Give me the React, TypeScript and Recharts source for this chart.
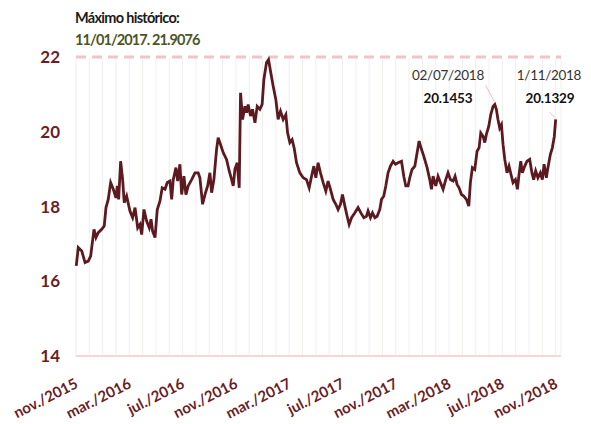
import { LineChart, Line, XAxis, YAxis, CartesianGrid, ReferenceLine } from 'recharts'

// months since nov./2015
const months = [
  0.02, 0.17, 0.43, 0.68, 0.92, 1.1, 1.35, 1.5, 1.67, 1.93, 2.12, 2.25, 2.42, 2.6, 2.8, 3.0, 3.1, 3.2, 3.35, 3.5,
  3.62, 3.8, 4.05, 4.25, 4.43, 4.63, 4.8, 4.93, 5.1, 5.3, 5.5, 5.63, 5.75, 5.93, 6.1, 6.3, 6.47, 6.68, 6.85, 7.05,
  7.18, 7.3, 7.5, 7.63, 7.8, 7.93, 8.1, 8.25, 8.42, 8.68, 8.93, 9.17, 9.3, 9.5, 9.68, 9.88, 10.05, 10.18, 10.35, 10.55,
  10.67, 10.8, 11.05, 11.3, 11.5, 11.68, 11.8, 11.93, 12.1, 12.25, 12.35, 12.5, 12.68, 12.8, 12.92, 13.1, 13.25, 13.43, 13.6, 13.8,
  13.97, 14.1, 14.3, 14.45, 14.6, 14.8, 15.0, 15.17, 15.35, 15.55, 15.75, 15.88, 16.05, 16.22, 16.37, 16.55, 16.8, 17.05, 17.3, 17.5,
  17.68, 17.85, 18.0, 18.17, 18.35, 18.55, 18.75, 18.92, 19.1, 19.3, 19.5, 19.67, 19.85, 20.0, 20.18, 20.35, 20.5, 20.68, 20.93, 21.17,
  21.38, 21.6, 21.8, 21.92, 22.1, 22.25, 22.43, 22.6, 22.8, 22.93, 23.1, 23.25, 23.42, 23.6, 23.8, 23.98, 24.17, 24.43, 24.6, 24.75,
  24.92, 25.05, 25.22, 25.43, 25.6, 25.75, 25.93, 26.1, 26.35, 26.55, 26.68, 26.8, 27.0, 27.17, 27.35, 27.55, 27.75, 27.92, 28.1, 28.3,
  28.45, 28.6, 28.75, 28.93, 29.1, 29.3, 29.48, 29.6, 29.75, 29.93, 30.1, 30.25, 30.38, 30.55, 30.68, 30.8, 30.98, 31.13, 31.3, 31.43,
  31.55, 31.67, 31.8, 31.93, 32.05, 32.18, 32.35, 32.5, 32.68, 32.8, 32.98, 33.13, 33.25, 33.38, 33.5, 33.68, 33.85, 34.05, 34.22, 34.35,
  34.5, 34.67, 34.85, 35.0, 35.13, 35.3, 35.42, 35.6, 35.75, 35.9, 36.0,
]

const rates = [
  16.41, 16.9, 16.81, 16.5, 16.54, 16.67, 17.39, 17.17, 17.3, 17.39, 17.48, 17.97, 18.19, 18.64, 18.46, 18.23, 18.55, 18.19, 19.21, 18.72,
  18.1, 18.28, 17.88, 17.7, 17.97, 17.43, 17.52, 17.25, 17.92, 17.61, 17.43, 17.66, 17.34, 17.17, 17.92, 18.14, 18.5, 18.46, 18.64, 18.68,
  18.19, 18.72, 19.04, 18.68, 19.13, 18.32, 18.81, 18.32, 18.55, 18.72, 18.9, 18.9, 18.77, 18.06, 18.32, 18.55, 18.9, 18.37, 18.72, 19.53,
  19.84, 19.71, 19.44, 19.26, 18.95, 18.72, 18.55, 19.0, 19.17, 18.5, 21.04, 20.33, 20.68, 20.51, 20.73, 20.42, 20.6, 20.24, 20.68, 20.6,
  20.73, 21.4, 21.85, 21.93, 21.62, 21.22, 20.86, 20.33, 20.55, 20.33, 20.46, 19.97, 19.71, 19.79, 19.57, 19.17, 18.9, 18.77, 18.72, 18.5,
  18.81, 19.08, 18.77, 19.17, 18.9, 18.64, 18.41, 18.68, 18.46, 18.19, 18.06, 17.92, 18.06, 18.32, 18.01, 17.74, 17.52, 17.7, 17.83, 17.97,
  17.83, 17.7, 17.74, 17.88, 17.7, 17.83, 17.7, 17.74, 17.92, 18.19, 18.28, 18.55, 18.9, 19.08, 19.21, 19.13, 19.17, 19.21, 18.81, 18.55,
  18.55, 18.77, 18.99, 19.08, 19.44, 19.75, 19.53, 19.35, 19.04, 18.72, 18.46, 18.81, 18.55, 18.81, 18.64, 18.46, 18.72, 18.9, 18.72, 18.68,
  18.81, 18.59, 18.5, 18.32, 18.28, 18.19, 18.01, 18.64, 19.04, 18.99, 19.48, 19.57, 19.97, 19.88, 19.71, 19.93, 20.15, 20.46, 20.68, 20.73,
  20.6, 20.33, 20.1, 20.19, 19.66, 19.26, 18.9, 19.08, 18.81, 18.64, 18.72, 18.46, 18.86, 19.21, 18.9, 19.08, 19.21, 19.26, 18.9, 18.72,
  18.95, 18.77, 18.9, 18.72, 19.13, 18.77, 19.04, 19.39, 19.57, 19.88, 20.33,
]

const monthTicks = Array.from({ length: 37 }, (_, i) => i)
const tickLabels = [
  'nov./2015', 'mar./2016', 'jul./2016', 'nov./2016', 'mar./2017',
  'jul./2017', 'nov./2017', 'mar./2018', 'jul./2018', 'nov./2018',
]
const yTicks = [14, 16, 18, 20, 22]

const data = months.map((m, i) => ({ m, rate: rates[i] }))

const FONT = 'Lato, "Open Sans", sans-serif'
const MAROON = '#6a1d27'

function MonthTick(props: { x: number; y: number; payload: { value: number } }) {
  const { x, y, payload } = props
  if (payload.value % 4 !== 0) return null
  const label = tickLabels[payload.value / 4]
  const tx = x + 3
  const ty = y + 23
  return (
    <text
      x={tx}
      y={ty}
      transform={`rotate(-27 ${tx} ${ty})`}
      textAnchor="end"
      fill={MAROON}
      fontSize={15}
      fontWeight={700}
      fontFamily={FONT}
    >
      {label}
    </text>
  )
}

const noteStyle = { position: 'absolute' as const, width: 100, textAlign: 'center' as const, fontSize: 13.5, lineHeight: '18px', zIndex: 2 }

export default function App() {
  return (
    <div style={{ position: 'relative', width: 591, height: 424, fontFamily: FONT }}>
      <style>{'body{margin:0}'}</style>

      <LineChart width={591} height={424} data={data} margin={{ top: 57, right: 30, bottom: 8, left: 16 }}>
        <CartesianGrid horizontal={false} stroke="#f1eeee" strokeWidth={1} />
        <XAxis
          type="number"
          dataKey="m"
          domain={[0, 36.4]}
          ticks={monthTicks}
          interval={0}
          axisLine={false}
          tickLine={false}
          height={60}
          tick={MonthTick as never}
        />
        <YAxis
          type="number"
          domain={[14, 22]}
          ticks={yTicks}
          width={60}
          axisLine={false}
          tickLine={false}
          tickMargin={10}
          tick={{ fill: MAROON, fontSize: 17, fontWeight: 700, fontFamily: FONT }}
        />
        <ReferenceLine y={14} stroke="#f5d6d9" strokeWidth={2} />
        <ReferenceLine y={22} stroke="#f2c4c7" strokeWidth={3} strokeDasharray="10 6" ifOverflow="visible" />
        <ReferenceLine
          segment={[{ x: 30.75, y: 21.24 }, { x: 31.4, y: 20.8 }]}
          stroke="#f0a8ae"
          strokeWidth={0.8}
          ifOverflow="visible"
        />
        <ReferenceLine
          segment={[{ x: 35.55, y: 20.52 }, { x: 35.93, y: 20.38 }]}
          stroke="#f0a8ae"
          strokeWidth={0.8}
          ifOverflow="visible"
        />
        <Line
          type="linear"
          dataKey="rate"
          stroke="#5c1a20"
          strokeWidth={2.8}
          dot={false}
          isAnimationActive={false}
        />
      </LineChart>

      <div style={{ position: 'absolute', left: 75, top: 9, fontSize: 14.5, letterSpacing: -0.7, lineHeight: '18px', fontWeight: 700, color: '#1b1b1b' }}>
        Máximo histórico:
      </div>
      <div style={{ position: 'absolute', left: 75, top: 31, fontSize: 14.5, letterSpacing: -0.9, lineHeight: '18px', fontWeight: 700, color: '#4b5528' }}>
        11/01/2017. 21.9076
      </div>

      <div style={{ ...noteStyle, left: 398, top: 66, letterSpacing: -0.3, color: '#333' }}>02/07/2018</div>
      <div style={{ ...noteStyle, left: 398, top: 89, letterSpacing: -0.2, fontWeight: 700, color: '#111' }}>20.1453</div>
      <div style={{ ...noteStyle, left: 499, top: 66, letterSpacing: -0.3, color: '#333' }}>1/11/2018</div>
      <div style={{ ...noteStyle, left: 500, top: 89, letterSpacing: -0.2, fontWeight: 700, color: '#111' }}>20.1329</div>
    </div>
  )
}
